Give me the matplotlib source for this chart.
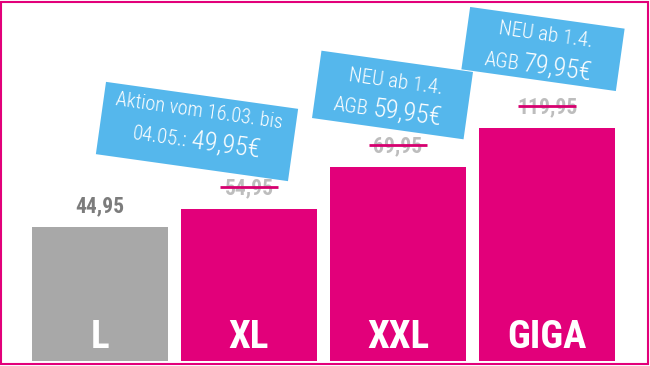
import matplotlib
matplotlib.use('Agg')
import matplotlib.pyplot as plt
from matplotlib.patches import Rectangle
from matplotlib.transforms import Affine2D

# tariffs and bar heights (arbitrary units)
tariffs = ['L', 'XL', 'XXL', 'GIGA']
bar_heights = [134, 152, 194, 233]
old_prices = ['44,95', '54,95', '69,95', '119,95']
struck = [False, True, True, True]

# callouts, attached to bar 1..3
callout_bar = [1, 2, 3]
callout_top = ['Aktion vom 16.03. bis', 'NEU ab 1.4.', 'NEU ab 1.4.']
callout_prefix = ['04.05.:', 'AGB', 'AGB']
callout_price = ['49,95€', '59,95€', '79,95€']

magenta = '#e2007a'
grey_bar = '#a8a8a8'
blue = '#55b7ec'
cond = ['Roboto Condensed', 'Roboto', 'DejaVu Sans']

fig = plt.figure(figsize=(6.5, 3.66), dpi=100)
ax = fig.add_axes([0, 0, 1, 1])
ax.set_xlim(-0.671, 3.691)
ax.set_ylim(-5, 361)
ax.set_axis_off()

x = list(range(len(tariffs)))
colors = [grey_bar] + [magenta] * 3
ax.bar(x, bar_heights, width=0.913, color=colors, zorder=2)

for i, name in enumerate(tariffs):
    ax.text(x[i], 13, name, ha='center', va='baseline', color='white',
            fontsize=28, fontweight='bold', family=cond, zorder=3)
    ly = bar_heights[i] + 21
    ax.text(x[i], ly, old_prices[i], ha='center', va='center',
            color='#bdbdbd' if struck[i] else '#7c7c7c',
            fontsize=15.5, fontweight='bold', family=cond, zorder=3)
    if struck[i]:
        ax.plot([x[i] - 0.195, x[i] + 0.195], [ly + 1, ly + 1], color='#d6006f',
                lw=2, solid_capstyle='butt', zorder=4)

# callout box geometry: centre offset from bar (dx units, dy px), size, text layout
box_dx = [-0.349, -0.037, -0.027]
box_dy = [77.5, 72, 79]
box_w = [194, 153, 156]
box_h = [73, 68, 63]
line1_u = [-1, 1, 1]
line1_size = [14.5, 15, 15]
line1_v = [15, 8, 9]
line2_v = [-16.5, -23, -24]
split_u = [-7, -20, -20]
angle = -8

fig.canvas.draw()
for k, b in enumerate(callout_bar):
    cx = x[b] + box_dx[k]
    cy = bar_heights[b] + box_dy[k]
    X, Y = ax.transData.transform((cx, cy))
    tr = Affine2D().rotate_deg(angle).translate(X, Y)
    rect = Rectangle((-box_w[k] / 2, -box_h[k] / 2), box_w[k], box_h[k],
                     transform=tr, facecolor=blue, edgecolor='none', clip_on=False, zorder=5)
    ax.add_patch(rect)
    kw = dict(transform=tr, rotation=angle, rotation_mode='anchor', va='baseline',
              color='white', family=cond, fontweight='light', zorder=6, clip_on=False)
    ax.text(line1_u[k], line1_v[k], callout_top[k], ha='center', fontsize=line1_size[k], **kw)
    ax.text(split_u[k] - 2, line2_v[k], callout_prefix[k], ha='right', fontsize=15, **kw)
    ax.text(split_u[k] + 3, line2_v[k], callout_price[k], ha='left', fontsize=19, **kw)

fig.add_artist(Rectangle((1 / 650, 2 / 366), 647 / 650, 362 / 366, transform=fig.transFigure,
                         fill=False, edgecolor=magenta, lw=1.5))

fig.savefig('out.png', dpi=100)
